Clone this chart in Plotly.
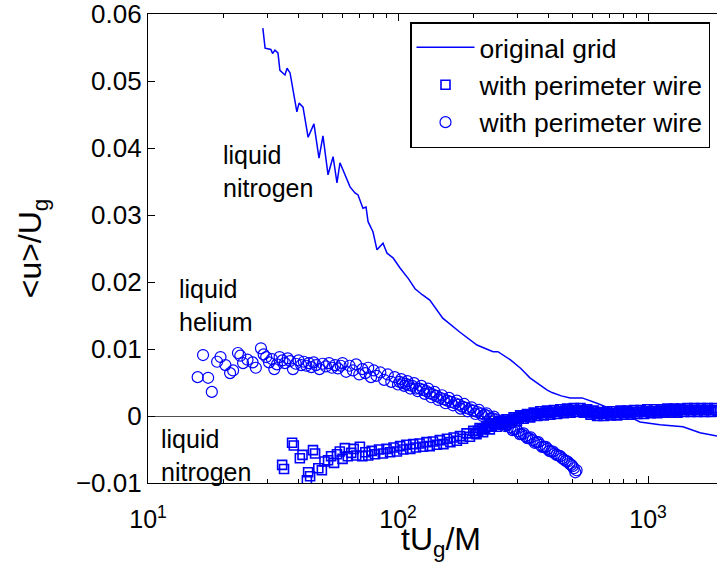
import plotly.graph_objects as go

# ---- original grid (liquid nitrogen), line ----
line_t = [28.8, 29.4, 31.0, 31.5, 32.2, 33.1, 33.7, 35.3, 36.0, 37.0, 39.4, 40.2, 41.7, 43.7, 46.1,
          48.3, 50.1, 52.5, 55.0, 57.0, 58.6, 60.8, 64.3, 67.3, 69.2, 72.4, 74.5, 75.9, 79.4, 82.4,
          87.1, 90.4, 95.5, 101.9, 110, 117, 125, 134, 151, 177, 207, 240, 251, 281, 310,
          337, 394, 413, 450, 488, 545, 625, 724, 824, 929, 1117, 1380, 1614, 1888]
line_u = [0.0579, 0.0549, 0.0547, 0.0541, 0.0546, 0.0542, 0.0516, 0.0509, 0.0519, 0.0512, 0.0454,
          0.0467, 0.0461, 0.0416, 0.0436, 0.0385, 0.0418, 0.0360, 0.0387, 0.0348, 0.0378, 0.0363,
          0.0342, 0.0333, 0.0330, 0.0310, 0.0312, 0.0290, 0.0275, 0.0248, 0.0258, 0.0243, 0.0236,
          0.0221, 0.0205, 0.0190, 0.0181, 0.0173, 0.0146, 0.0125, 0.0106, 0.0096, 0.0096, 0.0084,
          0.0071, 0.0057, 0.0039, 0.0035, 0.0030, 0.0027, 0.0027, 0.0019, 0.0009,
          0.0001, -0.0009, -0.0013, -0.0016, -0.0025, -0.0030]

# ---- with perimeter wire, squares (liquid nitrogen) ----
sq_t = [34.4, 35.0, 37.7, 38.3, 40.5, 41.5, 43.2, 43.7, 44.5, 45.7,
        46.6, 48.0, 49.6, 50.8, 52.5, 54.0, 55.5, 57.0, 58.5, 60.0,
        61.3, 63.0, 65.0, 66.5, 68.0, 70.4, 72.0, 74.0, 76.0, 78.5,
        81, 84, 87, 90, 93, 96, 99, 102, 105, 108,
        112, 115, 118, 122, 126, 130, 134, 138, 143, 147,
        152, 157, 162, 167, 172, 177, 182, 188, 194, 200,
        206, 212, 219, 226, 233, 240, 248, 256, 264, 272,
        281, 290, 299, 308, 318, 328, 338, 349, 360, 371,
        383, 395, 407, 420, 433, 446, 460, 475, 490, 505,
        521, 537, 554, 571, 589, 607, 626, 646, 666, 687,
        708, 730, 753, 777, 801, 826, 852, 879, 906, 935,
        964, 994, 1025, 1057, 1090, 1124, 1160, 1196, 1233, 1272,
        1312, 1353, 1395, 1439, 1484, 1530, 1578, 1628, 1679, 1731,
        1785, 1841, 1900]
sq_u = [-0.0073, -0.0079, -0.0040, -0.0044, -0.0063, -0.0058, -0.0096, -0.0084, -0.0090, -0.0051,
        -0.0056, -0.0078, -0.0081, -0.0068, -0.0066, -0.0060, -0.0070, -0.0057, -0.0053, -0.0064,
        -0.0048, -0.0060, -0.0055, -0.0049, -0.0059, -0.0046, -0.0060, -0.0054, -0.0059, -0.0052,
        -0.0057, -0.0050, -0.0056, -0.0049, -0.0054, -0.0047, -0.0053, -0.0045, -0.0050, -0.0043,
        -0.0049, -0.0042, -0.0047, -0.0041, -0.0046, -0.0039, -0.0045, -0.0038, -0.0043, -0.0036,
        -0.0042, -0.0034, -0.0039, -0.0032, -0.0037, -0.0030, -0.0034, -0.0026, -0.0031, -0.0022,
        -0.0027, -0.0018, -0.0024, -0.0015, -0.0020, -0.0011, -0.0016, -0.0008, -0.0013, -0.0005,
        -0.0010, -0.0002, -0.0007, 0.0001, -0.0004, 0.0003, -0.0002, 0.0005, 0.0000, 0.0007,
        0.0001, 0.0008, 0.0002, 0.0009, 0.0003, 0.0010, 0.0004, 0.0011, 0.0005, 0.0012,
        0.0006, 0.0012, 0.0005, 0.0010, 0.0002, 0.0008, 0.0000, 0.0006, 0.0000, 0.0007,
        0.0001, 0.0007, 0.0001, 0.0008, 0.0002, 0.0008, 0.0002, 0.0009, 0.0003, 0.0009,
        0.0003, 0.0010, 0.0004, 0.0010, 0.0004, 0.0010, 0.0005, 0.0011, 0.0005, 0.0011,
        0.0005, 0.0011, 0.0006, 0.0012, 0.0006, 0.0012, 0.0006, 0.0012, 0.0006, 0.0012,
        0.0006, 0.0012, 0.0007]
# additional squares in the dense band
sq2_t = [203, 209, 216, 223, 230, 237, 244, 252, 260, 268,
         277, 286, 295, 304, 313, 323, 333, 344, 355, 366,
         377, 389, 401, 414, 427, 440, 453, 468, 483, 498,
         513, 529, 546, 563, 580, 598, 617, 636, 656, 677,
         698, 719, 742, 765, 789, 814, 839, 866, 893, 921,
         950, 979, 1010, 1041, 1074, 1107, 1142, 1178, 1215, 1253,
         1292, 1333, 1374, 1417, 1462, 1507, 1554, 1603, 1654, 1705,
         1758, 1813, 1870]
sq2_u = [-0.0025, -0.0022, -0.0020, -0.0018, -0.0016, -0.0015, -0.0013, -0.0012, -0.0010, -0.0009,
         -0.0007, -0.0006, -0.0004, -0.0003, -0.0001, 0.0000, 0.0001, 0.0002, 0.0003, 0.0004,
         0.0004, 0.0005, 0.0005, 0.0006, 0.0006, 0.0007, 0.0007, 0.0008, 0.0008, 0.0009,
         0.0009, 0.0009, 0.0008, 0.0008, 0.0006, 0.0005, 0.0004, 0.0003, 0.0003, 0.0004,
         0.0004, 0.0004, 0.0004, 0.0005, 0.0005, 0.0005, 0.0005, 0.0006, 0.0006, 0.0006,
         0.0006, 0.0007, 0.0007, 0.0007, 0.0007, 0.0007, 0.0008, 0.0008, 0.0008, 0.0008,
         0.0008, 0.0009, 0.0009, 0.0009, 0.0009, 0.0009, 0.0009, 0.0009, 0.0009, 0.0009,
         0.0009, 0.0009, 0.0009]

# ---- with perimeter wire, circles (liquid helium) ----
ci_t = [15.8, 16.6, 17.4, 18.0, 18.9, 19.5, 20.4, 21.3, 21.9, 22.9,
        23.4, 24.0, 25.0, 26.2, 27.0, 28.3, 29.0, 29.7, 30.5, 31.3,
        32.0, 32.8, 33.6, 34.5, 35.3, 36.2, 37.0, 38.0, 39, 40,
        41, 42, 43, 44, 45, 46, 47, 48.5, 50, 51.5,
        53, 54.5, 56, 57.5, 59, 60, 62, 64, 66, 68,
        70, 72, 74, 76, 78, 80, 82, 85, 88, 91,
        94, 97, 100, 103, 106, 109, 112, 116, 120, 124,
        128, 132, 136, 140, 145, 150, 155, 160, 166, 172,
        178, 184, 190, 197, 204, 211, 218, 226, 234, 242,
        250, 259, 268, 277, 287, 297, 307, 318, 329, 340,
        352, 364, 377, 390, 403, 417, 431, 446, 461, 477,
        493, 505, 512, 518]
ci_u = [0.0058, 0.0091, 0.0057, 0.0036, 0.0081, 0.0088, 0.0076, 0.0064, 0.0068, 0.0094,
        0.0090, 0.0079, 0.0084, 0.0080, 0.0072, 0.0101, 0.0092, 0.0088, 0.0080, 0.0085,
        0.0070, 0.0077, 0.0088, 0.0083, 0.0079, 0.0086, 0.0082, 0.0070, 0.0078, 0.0083,
        0.0076, 0.0081, 0.0075, 0.0079, 0.0073, 0.0080, 0.0076, 0.0070, 0.0078, 0.0074,
        0.0079, 0.0072, 0.0076, 0.0071, 0.0075, 0.0079, 0.0066, 0.0075, 0.0068, 0.0077,
        0.0062, 0.0070, 0.0064, 0.0072, 0.0058, 0.0068, 0.0060, 0.0065, 0.0054, 0.0062,
        0.0051, 0.0058, 0.0047, 0.0055, 0.0045, 0.0052, 0.0041, 0.0049, 0.0037, 0.0045,
        0.0033, 0.0041, 0.0028, 0.0036, 0.0024, 0.0031, 0.0019, 0.0027, 0.0016, 0.0023,
        0.0011, 0.0018, 0.0007, 0.0013, 0.0003, 0.0009, 0.0000, 0.0004, -0.0004, -0.0001,
        -0.0009, -0.0007, -0.0015, -0.0012, -0.0021, -0.0019, -0.0027, -0.0026, -0.0033, -0.0032,
        -0.0040, -0.0039, -0.0046, -0.0046, -0.0052, -0.0053, -0.0058, -0.0060, -0.0065, -0.0068,
        -0.0073, -0.0078, -0.0084, -0.0081]
# additional circles in the dense band
ci2_t = [101.5, 104.5, 107.5, 110.5, 114, 118, 122, 126, 130, 134,
         138, 142.5, 147.5, 152.5, 157.5, 163, 169, 175, 181, 187,
         193.5, 200.5, 207.5, 214.5, 222, 230, 238, 246, 254.5, 263.5,
         272.5, 282, 292, 302, 312.5, 323.5, 334.5, 346, 358, 370.5,
         383.5, 396.5, 410, 424, 438.5, 453.5, 469, 485, 499]
ci2_u = [0.0051, 0.0049, 0.0048, 0.0046, 0.0045, 0.0041, 0.0041, 0.0039, 0.0037, 0.0034,
         0.0032, 0.0030, 0.0027, 0.0025, 0.0023, 0.0021, 0.0019, 0.0017, 0.0014, 0.0012,
         0.0010, 0.0008, 0.0006, 0.0004, 0.0002, 0.0000, -0.0003, -0.0005, -0.0008, -0.0011,
         -0.0014, -0.0017, -0.0020, -0.0023, -0.0027, -0.0030, -0.0033, -0.0036, -0.0039, -0.0043,
         -0.0046, -0.0049, -0.0053, -0.0056, -0.0059, -0.0063, -0.0067, -0.0071, -0.0075]

assert len(line_t) == len(line_u)
assert len(sq_t) == len(sq_u) and len(sq2_t) == len(sq2_u)
assert len(ci_t) == len(ci_u) and len(ci2_t) == len(ci2_u)

y_ticks = [-0.01, 0, 0.01, 0.02, 0.03, 0.04, 0.05, 0.06]
y_ticktext = ["\u22120.01", "0", "0.01", "0.02", "0.03", "0.04", "0.05", "0.06"]
x_ticks = [10, 100, 1000]
x_ticktext = ["10<sup>1</sup>", "10<sup>2</sup>", "10<sup>3</sup>"]
x_minor = [m * d for d in (10, 100, 1000) for m in range(2, 10)]

BLUE = "#0000ff"
FONT = "Arial, Liberation Sans, Helvetica, sans-serif"

fig = go.Figure()
fig.add_trace(go.Scatter(x=line_t, y=line_u, mode="lines", name="original grid",
                         line=dict(color=BLUE, width=1.5)))
fig.add_trace(go.Scatter(x=sq_t + sq2_t, y=sq_u + sq2_u, mode="markers", name="with perimeter wire",
                         marker=dict(symbol="square-open", size=9, color=BLUE, line=dict(width=1.6))))
fig.add_trace(go.Scatter(x=ci_t + ci2_t, y=ci_u + ci2_u, mode="markers", name="with perimeter wire",
                         marker=dict(symbol="circle-open", size=11, color=BLUE, line=dict(width=1.2))))

L, T, R, B = 148, 14, 0, 94
W, H = 717, 577
pw, ph = W - L - R, H - T - B

def px(xp):
    return (xp - L) / pw

def py(yp):
    return (H - B - yp) / ph

ann_font = dict(family=FONT, size=25, color="black")
for text, xl, yt in [("liquid<br>nitrogen", 221, 139),
                     ("liquid<br>helium", 177, 273),
                     ("liquid<br>nitrogen", 159, 423)]:
    fig.add_annotation(text=text, x=px(xl), y=py(yt), xref="paper", yref="paper",
                       xanchor="left", yanchor="top", align="left", showarrow=False,
                       font=ann_font)

# x-axis title placed as text below the tick labels
fig.add_annotation(text="tU<sub>g</sub>/M", x=px(441), y=py(519), xref="paper", yref="paper",
                   xanchor="center", yanchor="top", showarrow=False,
                   font=dict(family=FONT, size=32, color="black"))

fig.update_layout(
    width=W, height=H,
    margin=dict(l=L, r=R, t=T, b=B),
    paper_bgcolor="white", plot_bgcolor="white",
    font=dict(family=FONT, color="black"),
    showlegend=True,
    legend=dict(x=px(710), y=py(22), xanchor="right", yanchor="top",
                bgcolor="white", bordercolor="black", borderwidth=1.5,
                font=dict(size=26.5, family=FONT), itemwidth=58, tracegroupgap=0),
)
fig.update_xaxes(type="log", range=[1, 3.276], showgrid=False, zeroline=False,
                 showline=True, linecolor="black", linewidth=1.2, mirror="ticks",
                 ticks="inside", ticklen=7, tickcolor="black",
                 tickvals=x_ticks, ticktext=x_ticktext, tickfont=dict(size=25),
                 ticklabelstandoff=14, ticklabeloverflow="allow",
                 minor=dict(ticks="inside", ticklen=4, tickvals=x_minor, tickcolor="black", showgrid=False))
fig.update_yaxes(range=[-0.01000001, 0.06000001], showgrid=False,
                 zeroline=True, zerolinecolor="#505050", zerolinewidth=1,
                 showline=True, linecolor="black", linewidth=1.2, mirror=False,
                 ticks="inside", ticklen=7, tickcolor="black",
                 tickvals=y_ticks, ticktext=y_ticktext, tickfont=dict(size=26),
                 ticklabeloverflow="allow",
                 title=dict(text="&lt;u&gt;/U<sub>g</sub>", font=dict(size=32), standoff=24))

fig.write_html("out.html")
